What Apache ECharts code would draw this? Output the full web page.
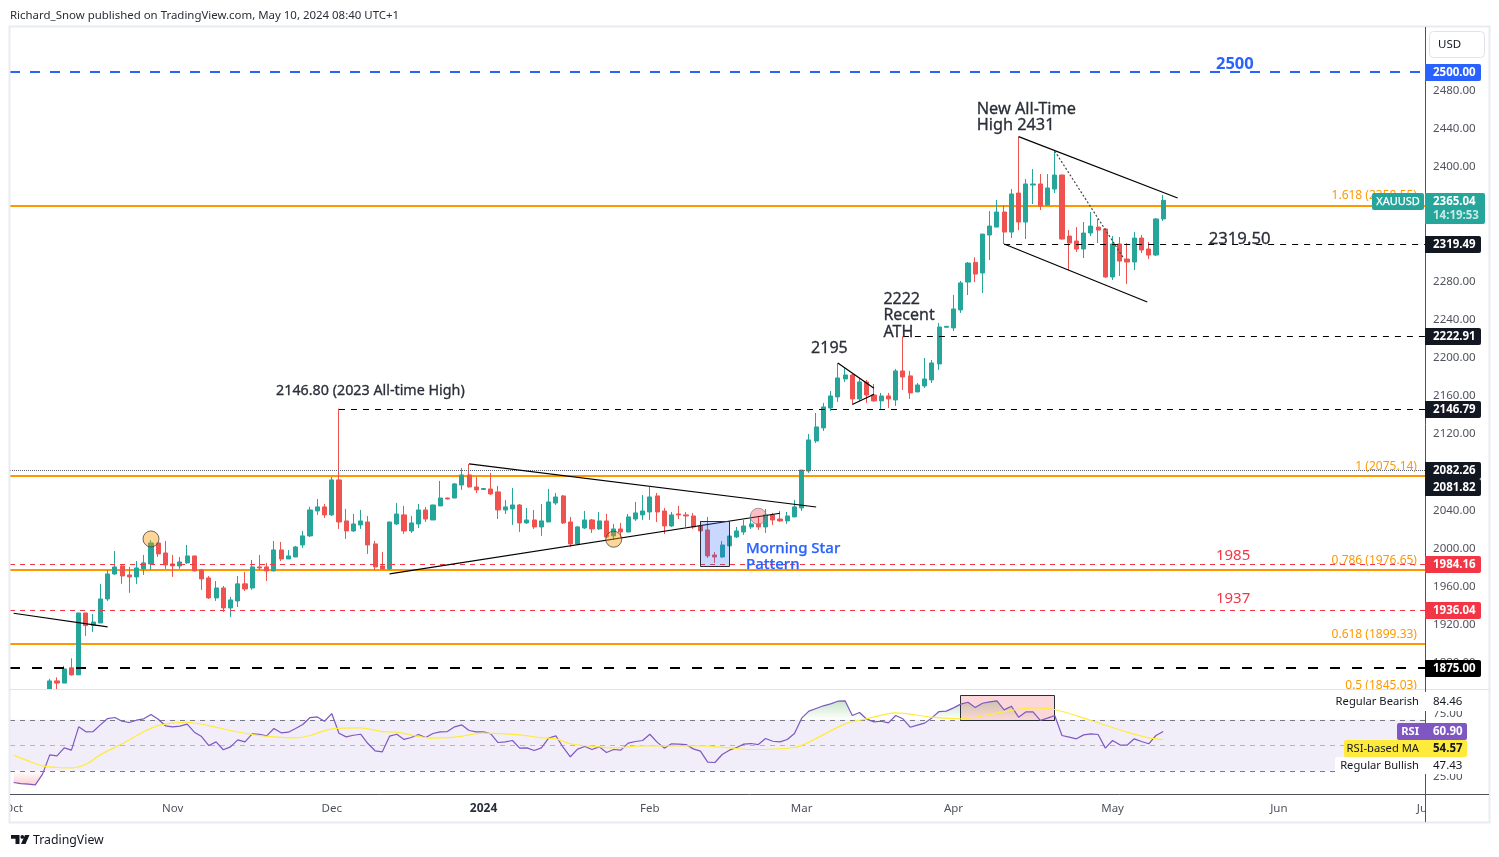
<!DOCTYPE html>
<html><head><meta charset="utf-8">
<style>html,body{margin:0;padding:0;background:#fff}#c{width:1499px;height:857px}</style>
<script src="https://cdn.jsdelivr.net/npm/echarts@6/dist/echarts.min.js"></script>
</head><body><div id="c"></div>
<script>
const opens=[1848,1836,1826,1822,1821,1833,1861.3,1859,1875,1867.6,
1932.5,1919.3,1922,1947.2,1973.4,1981.8,1972.4,1970.3,1978.7,1983.9,
2005.9,1995.4,1983.9,1981.8,1985,1992.3,1977.6,1969.2,1948.3,1958.7,
1937.8,1945.1,1963,1958.7,1980.8,1980.8,1976.6,1998.6,1989.1,1991.2,
2003.8,2013.3,2039.5,2043.7,2035.3,2072,2029,2018.5,2024.8,2027.9,
2004.9,1981.8,1978.7,2025.8,2035.3,2018.5,2025.8,2040.5,2030,2044.7,
2053,2053,2066.7,2077.2,2064.6,2062,2062.5,2059.4,2040.5,2041.6,
2045.7,2026.9,2030,2022.7,2027.9,2047.8,2055.2,2027.9,2004.9,2021.6,
2030,2020.6,2029,2013.3,2020.6,2017.4,2031,2035.3,2038.4,2055.2,
2039.4,2023.7,2036.3,2035.3,2034.2,2023.7,2019.5,1993.3,1991.2,2002.8,
2012.2,2017.4,2022.7,2025.8,2022.7,2035.3,2031,2029,2033.2,2042.6,
2081.4,2112.8,2126.5,2147.4,2159,2177.8,2182,2156.9,2174.7,2161,
2154.8,2160,2155.8,2186.2,2181,2164.2,2170.5,2176.8,2193.5,2232,
2231.3,2250.2,2279.4,2300,2288.9,2328.7,2337,2352.8,2331.8,2372.7,
2342.3,2381.1,2382.2,2360.1,2376.9,2391.6,2327.6,2322.4,2314,2330.8,
2337,2335,2284.7,2319.3,2303.5,2300.4,2325.5,2314,2307.7,2345.5];
const closes=[1836,1826,1822,1821,1833,1861.3,1859,1873.8,1867.6,1932.5,
1919.3,1923,1947.2,1973.4,1980.8,1971.3,1970.3,1979.7,1985,2005.9,
1994.4,1982.9,1981.8,1986,1992.3,1976.6,1968.2,1948.3,1958.7,1937.8,
1946.2,1963,1957.7,1980.8,1979.7,1976.6,1998.6,1989.1,1992.3,2001.7,
2013.3,2040.5,2043.7,2035.3,2072,2027.9,2018.5,2025.8,2029,2003.8,
1980.8,1978.7,2027.9,2036.3,2018.5,2026.9,2040.5,2031,2045.7,2053,
2052,2067.8,2077.2,2064.6,2061.5,2063,2057.3,2040.5,2043.7,2045.7,
2026.9,2030,2022.7,2029,2048.9,2054.1,2026.9,2004.9,2022.7,2030,
2020.6,2029,2012.2,2020.6,2017.4,2033.2,2037.4,2039.4,2054.1,2038.4,
2023.7,2035.3,2035.3,2034.2,2022.7,2018.5,1992.3,1991.2,2003.8,2013.2,
2018.5,2023.7,2025.8,2022.7,2035.3,2030,2029,2034.2,2043.7,2082.3,
2113.9,2127.5,2148.5,2160,2178.9,2182,2156.9,2174.7,2161,2154.8,
2160,2156.9,2186.2,2179.9,2163.2,2171.5,2177.8,2194.6,2232.3,2233,
2251.2,2278.5,2299.3,2287.8,2329.7,2338.1,2352.8,2331.8,2371.7,2342.3,
2382.2,2382.2,2359.1,2378,2391.6,2324.5,2320.3,2314,2330.8,2338.1,
2333.9,2284.7,2319.3,2301.4,2300.4,2325.5,2313,2307.7,2345.5,2365.04];
const lows=[1828,1820,1815,1813,1810,1830,1850,1859,1867,1867.6,
1908.4,1912.6,1922,1945,1972.4,1963,1953.5,1963,1972.4,1977.6,
1991.2,1978.7,1970.3,1978.7,1983.9,1976,1956.7,1947.2,1945.1,1933.6,
1928.4,1938.8,1955.6,1956.7,1977.6,1966,1976,1987,1989,1991,
2000.7,2012.2,2035.3,2032.1,2034.2,2020.6,2010.1,2017.4,2020.6,1994.4,
1977.6,1977.6,1977.6,2024.8,2015.4,2016.4,2021.6,2027.9,2030,2044.7,
2051.5,2053,2061.5,2064,2058.3,2061.5,2056.2,2031,2036.3,2024.8,
2017.4,2025.8,2020.6,2013.3,2027.9,2045.7,2025.8,2001.7,2003.8,2020.6,
2016.4,2019.5,2011.2,2009,2011.2,2017,2029,2030,2030,2027.9,
2015.3,2022.7,2031,2022.7,2020.6,2018,1990.2,1985,1990.2,2002.8,
2011.2,2014.3,2020.6,2019.5,2016.4,2024.8,2028,2025.8,2033,2039.5,
2079.3,2110.7,2123.3,2144.3,2153.7,2174.7,2151.6,2154.8,2152.7,2154,
2146.4,2147.4,2149.5,2166.3,2156.9,2164,2168.4,2173.6,2187.3,2232,
2228.1,2247,2265.8,2279.4,2267.9,2302.5,2337,2319.3,2325.5,2333.9,
2324.5,2361.2,2354.9,2360,2372.7,2324,2292,2310.9,2304.6,2327.6,
2320.3,2284,2281.5,2285.7,2277.3,2292,2309.8,2303.5,2306.7,2343.4];
const highs=[1850,1841,1832,1829,1835,1863.4,1865,1877,1885,1932.5,
1932.5,1931.5,1963,1977.6,1997.5,1983.9,1980.8,1987,1993.3,2009,
2006,2008,1993.3,1991.2,2003.8,1992.3,1978.7,1971.3,1966,1960.8,
1949.3,1971.3,1975.5,1988,1993.3,1985,2008,2007,1998.6,2002.8,
2018.5,2043.7,2052,2046.8,2075,2146.8,2041.6,2036.3,2040.5,2034.2,
2008,1996.5,2028,2047.8,2044.7,2034.2,2046.8,2043.7,2046,2070.9,
2053.5,2068.8,2084.5,2088.7,2075,2063.5,2079.3,2065.7,2051,2063.6,
2046.8,2042.6,2040.5,2046.8,2062.5,2058.3,2056.2,2033.2,2023.7,2039.5,
2031,2038.4,2036.3,2025.8,2026.9,2036.3,2048.9,2056.2,2064.6,2058.3,
2042.6,2038.4,2044.7,2038.4,2037.4,2029,2033.2,1996.5,2008,2013.3,
2022.7,2030,2035.3,2034.2,2041.6,2037.4,2039.5,2038.4,2051,2082.26,
2120.2,2142.2,2152.7,2165.2,2194.6,2189.4,2183,2178.9,2176.8,2172.6,
2163.2,2163.2,2188.3,2222.2,2186.2,2173.6,2199.8,2197.7,2236.5,2233,
2265.9,2280.6,2300.4,2305.3,2329.7,2353.8,2365.4,2360.1,2376.9,2431.8,
2387.4,2397.9,2392.6,2392.6,2416.7,2392,2333.9,2337,2342.3,2352.8,
2345.5,2336,2327.6,2326.6,2320.3,2331.8,2328.7,2321.4,2346.5,2370.6];
const rsiValues=[20.8,20,19.5,19,27.4,42.5,41.7,48,46.2,64.5,
60.6,60.8,66,71,71.8,68.9,67.9,69.7,70.8,74.2,
70.5,65.3,64.5,65,66.6,60.3,56.9,49.8,52.7,46.5,
48.8,54.3,52.7,59,58.7,57.4,63.2,59.8,60.3,63.2,
66.3,71.8,72.3,68.9,74.9,59.5,56.6,57.9,58.7,51.4,
45.7,44.9,57.2,58.7,54.6,56.1,58.5,56.1,59.3,60.6,
60.8,64.5,66,61.6,60.6,60.6,59,52.2,52.7,53.8,
47.8,48,45.9,48,55.6,57.4,48.5,41,47,49.1,
46.7,48.8,44.4,46.7,46.2,51.7,53,53.8,58.7,52.5,
47.8,51.2,50.9,50.6,47.2,45.4,36.8,36.5,42.8,46.2,
48.3,50.9,51.4,50.6,55.3,53.2,52.7,54.6,59.3,71.3,
76.8,78.9,81,82.5,84.6,84.9,73.4,75.7,70.5,68.4,
68.9,67.6,73.4,70.8,64.2,65.8,67.4,71.5,76.5,76.8,
79.4,82.3,83.8,79.6,83,84.1,84.9,77.8,80.7,72.1,
76.2,76.2,69.5,71.3,73.4,57.7,56.4,55.1,58.2,59,
58.5,47.8,53.8,50.4,50.1,55.1,53,51.2,57.7,60.9];
const rsiMaIdx=[0,2,4,6,8,10,12,15,18,20,22,24,27,30,33,36,39,41,44,48,51,53,58,61,65,70,73,75,77,80,83,87,90,95,99,102,108,110,115,118,122,127,131,137,141,144,149,154,157,159];
const rsiMaVals=[42.3,37.8,33.9,32.6,32.3,35.2,42.5,51.2,60.6,65.5,67.4,68.1,65.5,61.6,58.5,56.6,55.9,57.7,62.9,63.7,60.8,60.3,55.6,56.4,59.5,58.2,55.9,55.1,51.2,49.3,48,49.6,49.6,49.6,48,46.7,48.3,52.5,66.8,70.8,75.5,72.1,70.8,76.5,79.4,78.1,69.5,60.3,55.9,54.57];

const monthTickDates=['2023-10-02','2023-11-01','2023-12-01','2024-01-01','2024-02-01','2024-03-01','2024-04-01','2024-05-01','2024-06-03','2024-07-01'];
const monthTickLabels=['Oct','Nov','Dec','2024','Feb','Mar','Apr','May','Jun','Jul'];
const priceTicks=[1880,1920,1960,2000,2040,2080,2120,2160,2200,2240,2280,2320,2360,2400,2440,2480];
const rsiTicks=[25,75];
const fibLevels=[2358.55,2075.14,1976.65,1899.33];
const fibTexts=['1.618 (2358.55)','1 (2075.14)','0.786 (1976.65)','0.618 (1899.33)','0.5 (1845.03)'];
const fibTextLevels=[2358.55,2075.14,1976.65,1899.33,1845.03];
const redLevels=[1984.16,1936.04];
const priorCloseLevel=2082.26;
const blueLevel=2500;
const blackLevel=1875;
const partialLevels=[[137,2319.5],[123,2222.91],[45,2146.79]];
const trendLines=[[0,1932.2,13,1917.9],[52,1973.4,106,2037],[63,2088.7,111,2043.6],[114,2194.6,119,2168],[116,2151,119,2161.8],[139,2431.8,161,2367.5],[137,2319.3,156.8,2258.5]];
const dottedTrend=[144,2416.7,153.6,2303.5];
const circleIdx=[19,83,103];
const circlePrices=[2010.1,2009.8,2033.9];
const patternBox=[95,2028.6,99,1981.8];
const divergenceBox=[131,89.5,144,70];
const noteTexts=['New All-Time\nHigh 2431','2319.50','2222\nRecent\nATH','2195','2146.80 (2023 All-time High)'];
const noteIdx=[133.2,165.3,120.3,110.3,36.3];
const notePrices=[2452.9,2325.6,2244.9,2210.3,2166.2];
const levelNoteTexts=['1985','1937'];
const levelNotePrices=[1993.3,1948.2];
const priceTagTexts=['2500.00','2319.49','2222.91','2146.79','2082.26','2081.82','1984.16','1936.04','1875.00'];
const priceTagValues=[2500,2319.49,2222.91,2146.79,2082.26,2082.26,1984.16,1936.04,1875];
const lastPrice=2365.04;
const rsiLast=60.9, rsiMaLast=54.57, bearishLevel=84.46, bullishLevel=47.43;

const FONT='"Noto Sans","Open Sans",sans-serif';
const categories=[];
for(let d=new Date(Date.UTC(2023,9,2));d<=new Date(Date.UTC(2024,6,1));d=new Date(d.getTime()+864e5)){
  const w=d.getUTCDay(); if(w!==0&&w!==6) categories.push(d.toISOString().slice(0,10));
}
const candleData=opens.map((o,i)=>[o,closes[i],lows[i],highs[i]]);

function xAt(api,v,y){const f=Math.floor(v);const a=api.coord([f,y])[0];const b=api.coord([f+1,y])[0];return a+(v-f)*(b-a);}
function crisp(v,s){return (s.w%2)?Math.round(v)+0.5:(s.near?Math.round(v):Math.floor(v));}

const DARK='#131722';
const bottomSegs=fibLevels.map(p=>({p,stroke:'#ff9800',w:2}));
const topSegs=[
 {p:blueLevel,stroke:'#2962ff',w:2,near:true,dash:[10,10]},
 {p:blackLevel,stroke:'#000',w:2,near:true,dash:[10,12]},
 {p:priorCloseLevel,stroke:'#5d606b',w:1,dash:[1,1]},
 ...redLevels.map(p=>({p,stroke:'#f23645',w:1,dash:[5,5]})),
 ...partialLevels.map(r=>({p:r[1],from:r[0],stroke:'#000',w:1,dash:[6,6]})),
 ...trendLines.map(r=>({t:r,stroke:'#000',w:1.2})),
 {t:dottedTrend,stroke:'#444',w:1.2,dash:[2,2]}
];
function segRender(list){return function(params,api){
  const s=list[params.dataIndex],cs=params.coordSys;
  let x1,y1,x2,y2;
  if(s.t){x1=xAt(api,s.t[0],s.t[1]);y1=api.coord([0,s.t[1]])[1];x2=xAt(api,s.t[2],s.t[3]);y2=api.coord([0,s.t[3]])[1];}
  else{const y=crisp(api.coord([0,s.p])[1],s);y1=y2=y;x1=s.from==null?cs.x:xAt(api,s.from,s.p);x2=cs.x+cs.width;}
  return {type:'line',shape:{x1,y1,x2,y2},style:{stroke:s.stroke,lineWidth:s.w,lineDash:s.dash||null,fill:null}};
};}

const noteFonts=['16.3px ','16.7px ','16px ','16px ','14.3px '];
const notes=[
 ...noteTexts.map((t,i)=>({t,x:noteIdx[i],p:notePrices[i],dy:0.8,font:noteFonts[i]+FONT,fill:'#2a2e39',align:'left',lh:16.5,sw:0.3})),
 {t:'Morning Star\nPattern',x:101.3,p:1992.2,dy:0.8,font:'500 15px '+FONT,fill:'#2962ff',align:'left',lh:16,sw:0.25},
 ...levelNoteTexts.map((t,i)=>({t,x:166.3,p:levelNotePrices[i],dy:0.8,font:'15px '+FONT,fill:'#f23645',align:'left',lh:16})),
 {t:'2500',x:166.3,p:2509,dy:1,font:'bold 16.5px '+FONT,fill:'#2962ff',align:'left',lh:16},
 ...fibTexts.map((t,i)=>({t,x:194.1,p:fibTextLevels[i],dy:-10.5,font:'12px '+FONT,fill:'#ff9800',align:'right',lh:14}))
];

const TAGX=1425;
function tagGroup(y0,text,bg,fg,opts){
  opts=opts||{};const h=opts.h||17,w=opts.w||56;const y=Math.round(y0)+0.5;
  const ch=[{type:'rect',shape:{x:TAGX,y:y-h/2,width:w,height:h,r:[0,2,2,0]},style:{fill:bg}},
    {type:'text',style:{x:1433,y:y+0.5,text,fill:fg,font:(opts.weight||'bold')+' 11.5px '+FONT,align:'left',verticalAlign:'middle'}}];
  if(opts.left){const lw=opts.leftW;
    if(opts.leftBg)ch.push({type:'rect',shape:{x:TAGX-lw,y:y-h/2,width:lw,height:h,r:[2,0,0,2]},style:{fill:opts.leftBg}});
    ch.push({type:'text',style:{x:1419,y:y+0.5,text:opts.left,fill:opts.leftFg||fg,font:(opts.leftWeight||'normal')+' 11.2px '+FONT,align:'right',verticalAlign:'middle'}});}
  return ch;
}
const tagBg=['#2962ff','#131722','#131722','#131722','#131722','#131722','#f23645','#f23645','#000'];
const tagDy=[0,0,0,0,0,17,0,0,0];
const rsiTags=[
 {v:bearishLevel,dy:0,text:'84.46',bg:'#fff',fg:DARK,w:48,h:19,left:'Regular Bearish',leftW:0,weight:'normal'},
 {v:rsiLast,dy:0,text:'60.90',bg:'#7e57c2',fg:'#fff',w:42,left:'RSI',leftW:28,leftBg:'#7e57c2',leftWeight:'bold',leftFg:'#fff'},
 {v:rsiMaLast,dy:8.5,text:'54.57',bg:'#ffeb3b',fg:DARK,w:42,left:'RSI-based MA',leftW:81,leftBg:'#ffeb3b'},
 {v:bullishLevel,dy:16.5,text:'47.43',bg:'#fff',fg:DARK,w:48,h:17,left:'Regular Bullish',leftW:90,leftBg:'#fff',weight:'normal'}
];

const option={
 animation:false,
 textStyle:{fontFamily:FONT},
 grid:[{left:10,top:27,width:1417.08,height:662},{left:10,top:690,width:1417.08,height:104}],
 xAxis:[
  {type:'category',gridIndex:0,data:categories,show:false,boundaryGap:true},
  {type:'category',gridIndex:1,data:categories,boundaryGap:true,z:3,axisLine:{show:false},axisTick:{show:false},splitLine:{show:false},
   axisLabel:{margin:9,fontSize:11.5,color:'#50535e',fontFamily:FONT,hideOverlap:false,showMinLabel:true,showMaxLabel:true,
    interval:(i,v)=>monthTickDates.includes(v),
    formatter:v=>{const k=monthTickDates.indexOf(v);if(k<0)return '';const t=monthTickLabels[k];return /^\d/.test(t)?'{b|'+t+'}':t;},
    rich:{b:{fontWeight:'bold',color:'#2a2e39',fontSize:12,fontFamily:FONT}}}}
 ],
 yAxis:[
  {type:'value',gridIndex:0,position:'right',min:1852.8,max:2546.75,z:6,axisLine:{show:false},axisTick:{show:false},splitLine:{show:false},
   axisLabel:{customValues:priceTicks,margin:6,padding:[2,0,0,0],color:'#50535e',fontSize:11.5,fontFamily:FONT,formatter:v=>v.toFixed(2),showMinLabel:true,showMaxLabel:true}},
  {type:'value',gridIndex:1,position:'right',min:11.8,max:93.4,z:6,axisLine:{show:false},axisTick:{show:false},splitLine:{show:false},
   axisLabel:{customValues:rsiTicks,margin:6,color:'#50535e',fontSize:11.5,fontFamily:FONT,formatter:v=>v.toFixed(2)}}
 ],
 series:[
  {type:'custom',name:'levels',xAxisIndex:0,yAxisIndex:0,z:1,clip:true,silent:true,data:bottomSegs.map(()=>[0,0]),renderItem:segRender(bottomSegs)},
  {type:'candlestick',name:'XAUUSD',xAxisIndex:0,yAxisIndex:0,z:2,barWidth:4.6,data:candleData,
   itemStyle:{color:'#26a69a',color0:'#ef5350',borderColor:'#26a69a',borderColor0:'#ef5350',borderWidth:1}},
  {type:'custom',name:'drawings',xAxisIndex:0,yAxisIndex:0,z:4,clip:true,silent:true,data:topSegs.map(()=>[0,0]),renderItem:segRender(topSegs)},
  {type:'custom',name:'pattern',xAxisIndex:0,yAxisIndex:0,z:4,silent:true,data:[[0,0]],renderItem:(p,api)=>{
    const x1=xAt(api,patternBox[0],0),x2=xAt(api,patternBox[2],0),y1=api.coord([0,patternBox[1]])[1],y2=api.coord([0,patternBox[3]])[1];
    return {type:'rect',shape:{x:Math.round(x1)+.5,y:Math.round(y1)+.5,width:Math.round(x2-x1),height:Math.round(y2-y1)},style:{fill:'rgba(41,98,255,0.25)',stroke:'#2a2e39',lineWidth:1}};}},
  {type:'scatter',name:'marks',xAxisIndex:0,yAxisIndex:0,z:4,symbolSize:16,silent:true,
   data:circleIdx.map((x,i)=>({value:[x,circlePrices[i]],itemStyle:{color:i<2?'rgba(255,152,0,0.5)':'rgba(242,54,69,0.4)',borderColor:i<2?'#444':'#888',borderWidth:1}}))},
  {type:'custom',name:'notes',xAxisIndex:0,yAxisIndex:0,z:4,clip:true,silent:true,data:notes.map(()=>[0,0]),renderItem:(p,api)=>{
    const n=notes[p.dataIndex];
    const style={x:xAt(api,n.x,n.p),y:api.coord([0,n.p])[1]+(n.dy||0),text:n.t,font:n.font,fill:n.fill,align:n.align,verticalAlign:'middle',lineHeight:n.lh};
    if(n.sw){style.stroke=n.fill;style.lineWidth=n.sw;}
    return {type:'text',style};}},
  {type:'line',name:'RSI fill base',xAxisIndex:1,yAxisIndex:1,stack:'over',z:4,symbol:'none',silent:true,lineStyle:{opacity:0},data:rsiValues.map(()=>70)},
  {type:'line',name:'RSI over',xAxisIndex:1,yAxisIndex:1,stack:'over',z:4,symbol:'none',silent:true,lineStyle:{opacity:0},
   areaStyle:{color:{type:'linear',x:0,y:0,x2:0,y2:1,colorStops:[{offset:0,color:'rgba(76,175,80,0.45)'},{offset:1,color:'rgba(76,175,80,0)'}]}},data:rsiValues.map(v=>Math.max(0,v-70))},
  {type:'line',name:'RSI low base',xAxisIndex:1,yAxisIndex:1,stack:'under',z:4,symbol:'none',silent:true,lineStyle:{opacity:0},data:rsiValues.slice(0,6).map(v=>Math.min(v,30))},
  {type:'line',name:'RSI under',xAxisIndex:1,yAxisIndex:1,stack:'under',z:4,symbol:'none',silent:true,lineStyle:{opacity:0},
   areaStyle:{color:{type:'linear',x:0,y:0,x2:0,y2:1,colorStops:[{offset:0,color:'rgba(242,54,69,0)'},{offset:1,color:'rgba(242,54,69,0.35)'}]}},data:rsiValues.slice(0,6).map(v=>30-Math.min(v,30))},
  {type:'custom',name:'box',xAxisIndex:1,yAxisIndex:1,z:4,silent:true,data:[[0,0]],renderItem:(p,api)=>{
    const x1=api.coord([divergenceBox[0],0])[0],x2=api.coord([divergenceBox[2],0])[0],y1=api.coord([0,divergenceBox[1]])[1],y2=api.coord([0,divergenceBox[3]])[1];
    return {type:'rect',shape:{x:Math.round(x1)-.5,y:Math.round(y1)+.5,width:Math.round(x2-x1),height:Math.round(y2-y1)},style:{fill:'rgba(242,54,69,0.2)',stroke:'#2a2e39',lineWidth:1}};}},
  {type:'line',name:'RSI',xAxisIndex:1,yAxisIndex:1,z:4,symbol:'none',silent:true,lineStyle:{color:'#7e57c2',width:1.2},data:rsiValues,
   markArea:{z:4,silent:true,itemStyle:{color:'rgba(126,87,194,0.1)'},data:[[{yAxis:30},{yAxis:70}]]},
   markLine:{z:4,silent:true,symbol:'none',label:{show:false},animation:false,data:[
    {yAxis:70,lineStyle:{color:'#787b86',type:[5,5],width:1}},
    {yAxis:50,lineStyle:{color:'rgba(120,123,134,0.5)',type:[5,5],width:1}},
    {yAxis:30,lineStyle:{color:'#787b86',type:[5,5],width:1}}]}},
  {type:'line',name:'RSI-based MA',xAxisIndex:1,yAxisIndex:1,z:4,symbol:'none',silent:true,smooth:0.3,lineStyle:{color:'#ffeb3b',width:1.2},data:rsiMaIdx.map((x,i)=>[x,rsiMaVals[i]])},
  {type:'custom',name:'priceTags',xAxisIndex:0,yAxisIndex:0,z:7,silent:true,data:[...priceTagTexts.map(()=>[0,0]),[0,0]],renderItem:(p,api)=>{
    const i=p.dataIndex;
    if(i===priceTagTexts.length){
      const y=api.coord([0,lastPrice])[1];
      return {type:'group',children:[
        {type:'rect',shape:{x:1372,y:193,width:52,height:17,r:2},style:{fill:'#26a69a'}},
        {type:'text',style:{x:1398,y:y+1.5,text:'XAUUSD',fill:'#fff',font:'11px '+FONT,align:'center',verticalAlign:'middle',stroke:'#fff',lineWidth:0.25}},
        {type:'rect',shape:{x:TAGX,y:193,width:60,height:31,r:[0,2,2,0]},style:{fill:'#26a69a'}},
        {type:'text',style:{x:1433,y:y+1.5,text:lastPrice.toFixed(2),fill:'#fff',font:'bold 11.5px '+FONT,align:'left',verticalAlign:'middle'}},
        {type:'text',style:{x:1433,y:y+15.5,text:'14:19:53',fill:'rgba(255,255,255,0.75)',font:'bold 11.5px '+FONT,align:'left',verticalAlign:'middle'}}]};
    }
    const y=api.coord([0,priceTagValues[i]])[1]+tagDy[i];
    return {type:'group',children:tagGroup(y,priceTagTexts[i],tagBg[i],'#fff')};}},
  {type:'custom',name:'rsiTags',xAxisIndex:1,yAxisIndex:1,z:7,silent:true,data:rsiTags.map(()=>[0,0]),renderItem:(p,api)=>{
    const t=rsiTags[p.dataIndex];const y=api.coord([0,t.v])[1]+t.dy;
    return {type:'group',children:tagGroup(y,t.text,t.bg,t.fg,t)};}}
 ],
 graphic:{elements:[
  {type:'rect',z:3,shape:{x:10,y:690,width:1416,height:104},style:{fill:'#fff'}},
  {type:'rect',z:5,shape:{x:0,y:795,width:9,height:27},style:{fill:'#fff'}},
  {type:'rect',z:5,shape:{x:1426,y:28,width:63,height:794},style:{fill:'#fff'}},
  {type:'rect',z:5,shape:{x:9.5,y:26.5,width:1480,height:796},style:{fill:'none',stroke:'#e9ebf2',lineWidth:2}},
  {type:'line',z:6,shape:{x1:10,y1:689.5,x2:1489,y2:689.5},style:{stroke:'#e0e3eb',lineWidth:1}},
  {type:'line',z:6,shape:{x1:10,y1:794.5,x2:1489,y2:794.5},style:{stroke:'#50535e',lineWidth:1}},
  {type:'line',z:6,shape:{x1:1425.5,y1:27,x2:1425.5,y2:822},style:{stroke:'#50535e',lineWidth:1}},
  {type:'rect',z:8,shape:{x:1429.5,y:31.5,width:55,height:26,r:4},style:{fill:'#fff',stroke:'#e0e3eb',lineWidth:1}},
  {type:'text',z:8,style:{x:1438,y:45,text:'USD',font:'11.5px '+FONT,fill:'#131722',verticalAlign:'middle'}},
  {type:'text',z:8,style:{x:10,y:15.5,text:'Richard_Snow published on TradingView.com, May 10, 2024 08:40 UTC+1',font:'11.45px '+FONT,fill:'#2a2e39',verticalAlign:'middle'}},
  {type:'polygon',z:8,shape:{points:[[11,835],[19.5,835],[19.5,844],[15.5,844],[15.5,838.7],[11,838.7]]},style:{fill:DARK}},
  {type:'circle',z:8,shape:{cx:22.3,cy:836.9,r:1.9},style:{fill:DARK}},
  {type:'polygon',z:8,shape:{points:[[25,835],[29.5,835],[25.5,844],[21,844]]},style:{fill:DARK}},
  {type:'text',z:8,style:{x:33,y:840,text:'TradingView',font:'12.3px '+FONT,fill:DARK,verticalAlign:'middle'}}
 ]}
};
echarts.init(document.getElementById('c'),null,{renderer:'canvas'}).setOption(option);
</script></body></html>
